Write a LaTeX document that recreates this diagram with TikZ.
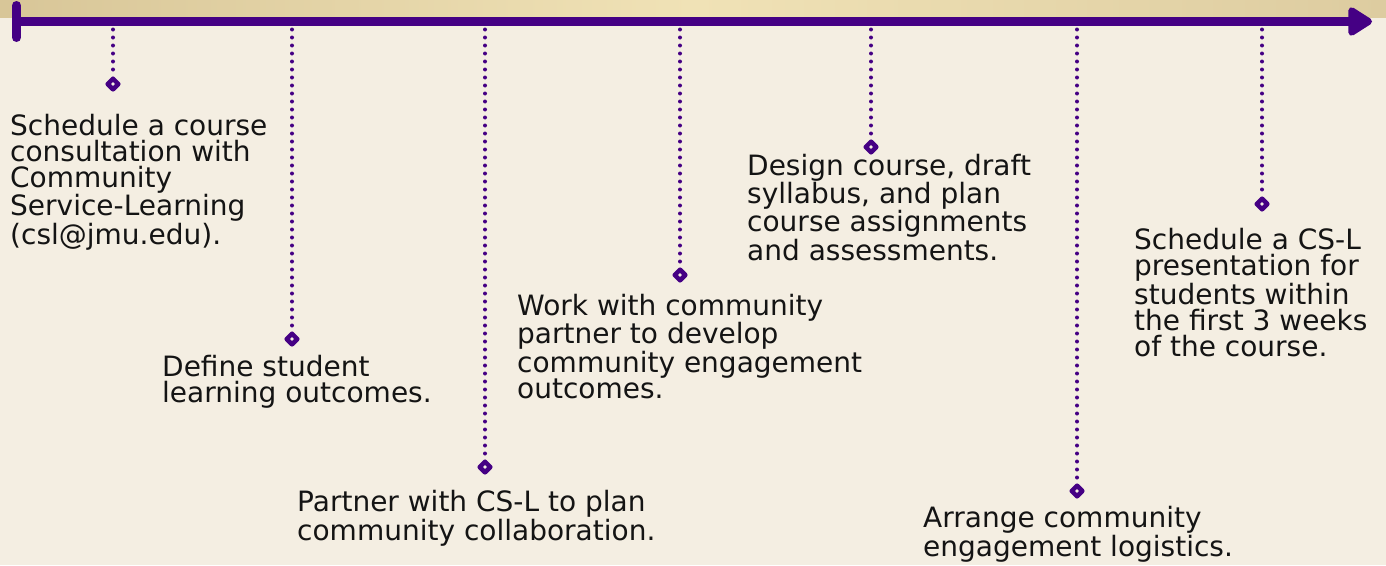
\documentclass[tikz,border=0pt]{standalone}
\usepackage{fontspec}
\setmainfont{DejaVu Sans}
\usepackage{xcolor}
\usepackage{tikz}
\usetikzlibrary{arrows.meta,shapes.geometric}

\definecolor{jmupurple}{RGB}{69,0,132}
\definecolor{paper}{RGB}{244,238,226}
\definecolor{bandtan}{RGB}{216,198,152}
\definecolor{bandlight}{RGB}{240,226,182}
\definecolor{bandright}{RGB}{221,204,160}
\definecolor{inkblack}{RGB}{20,20,20}

\begin{document}
\begin{tikzpicture}[x=1pt,y=-1pt,
    axisline/.style={line width=9pt, color=jmupurple, {Bar[width=32pt,round]}-{Triangle[length=27pt,width=32pt,round]}},
    tickline/.style={jmupurple, line width=4pt, line cap=round, dash pattern=on 0pt off 8pt},
    marker/.style={diamond, aspect=1, draw=jmupurple, fill=paper, line width=4.5pt, line join=round, minimum size=12.5pt, inner sep=0pt},
    steptext/.style={anchor=base west, align=left, inner sep=0pt, text=inkblack, font=\fontsize{28}{26}\selectfont}]
    % Page and top band
    \useasboundingbox (0,0) rectangle (1386,565);
    \fill[paper] (0,0) rectangle (1386,565);
    \fill[left color=bandtan, right color=bandright, middle color=bandlight] (0,0) rectangle (1386,17.5);

    % Timeline
    \coordinate (start) at (12,21.5);
    \coordinate (end) at (1372,21.5);
    \draw[axisline] (start) -- (end);

    % Step 1 (text anchored at the last line)
    \coordinate (t1) at (113,21.5);
    \node[marker] (m1) at (113,84) {};
    \draw[tickline] (t1) -- (m1);
    \node[steptext] (s1) at (10,244) {Schedule a course\\consultation with\\Community\\Service-Learning\\(csl@jmu.edu).};

    % Step 2
    \coordinate (t2) at (292,21.5);
    \node[marker] (m2) at (292,339) {};
    \draw[tickline] (t2) -- (m2);
    \node[steptext] (s2) at (162,402) {Define student\\learning outcomes.};

    % Step 3
    \coordinate (t3) at (485,21.5);
    \node[marker] (m3) at (485,467) {};
    \draw[tickline] (t3) -- (m3);
    \node[steptext] (s3) at (297,540) {Partner with CS-L to plan\\community collaboration.};

    % Step 4
    \coordinate (t4) at (680,21.5);
    \node[marker] (m4) at (680,275) {};
    \draw[tickline] (t4) -- (m4);
    \node[steptext] (s4) at (517,398) {Work with community\\partner to develop\\community engagement\\outcomes.};

    % Step 5
    \coordinate (t5) at (871,21.5);
    \node[marker] (m5) at (871,147) {};
    \draw[tickline] (t5) -- (m5);
    \node[steptext] (s5) at (747,260) {Design course, draft\\syllabus, and plan\\course assignments\\and assessments.};

    % Step 6
    \coordinate (t6) at (1077,21.5);
    \node[marker] (m6) at (1077,491) {};
    \draw[tickline] (t6) -- (m6);
    \node[steptext] (s6) at (923,556) {Arrange community\\engagement logistics.};

    % Step 7
    \coordinate (t7) at (1262,21.5);
    \node[marker] (m7) at (1262,204) {};
    \draw[tickline] (t7) -- (m7);
    \node[steptext] (s7) at (1134,356) {Schedule a CS-L\\presentation for\\students within\\the first 3 weeks\\of the course.};
\end{tikzpicture}
\end{document}
